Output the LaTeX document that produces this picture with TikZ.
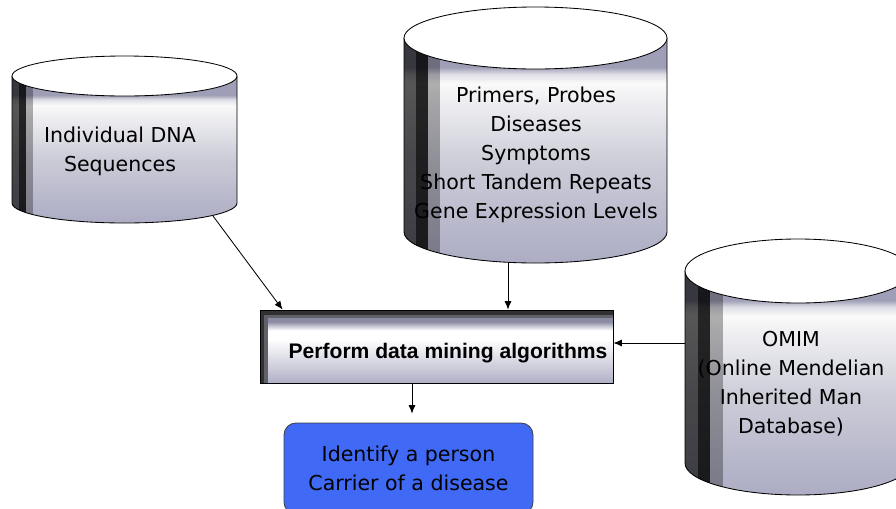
\documentclass[tikz,border=0pt]{standalone}
\usepackage{fontspec}
\setmainfont{DejaVu Sans}
\newfontfamily\boldfont{Liberation Sans}
\usetikzlibrary{calc,arrows.meta}

\definecolor{dbA}{RGB}{172,172,196}
\definecolor{dbB}{RGB}{204,204,216}
\definecolor{dbC}{RGB}{238,238,242}
\definecolor{dbW}{RGB}{250,250,250}
\definecolor{dbD}{RGB}{222,222,230}
\definecolor{dbE}{RGB}{158,158,182}
\definecolor{mbA}{RGB}{176,176,198}
\definecolor{mbC}{RGB}{200,200,212}
\definecolor{mbD}{RGB}{138,138,162}
\definecolor{mbdark}{RGB}{48,48,48}
\definecolor{mbgray}{RGB}{96,96,104}
\definecolor{resblue}{RGB}{64,106,246}

\pgfdeclareverticalshading{dbbody}{100bp}{color(0bp)=(dbA); color(25bp)=(dbA);
  color(47bp)=(dbB); color(61bp)=(dbC); color(65bp)=(dbW); color(67bp)=(dbD);
  color(68.5bp)=(dbE); color(100bp)=(dbE)}
\pgfdeclareverticalshading{mineshade}{100bp}{color(0bp)=(mbA); color(25bp)=(mbA);
  color(55bp)=(white); color(61bp)=(white); color(64bp)=(mbC); color(67bp)=(mbD);
  color(100bp)=(mbD)}

\tikzset{
 dbline/.style
  = {draw=black, line width=0.6pt},
 dbtext/.style
  = {align=center, inner sep=0pt, font=\fontsize{14.6}{20.6}\selectfont},
 minebox/.style
  = {rectangle, draw=black, line width=0.6pt, shading=mineshade, inner sep=0pt,
     path picture={
       \fill[mbdark] (path picture bounding box.north west) rectangle ([yshift=-3.6pt]path picture bounding box.north east);
       \fill[mbgray] ([yshift=-3.6pt]path picture bounding box.north west) rectangle ([yshift=-5.7pt]path picture bounding box.north east);
       \fill[mbdark] (path picture bounding box.north west) rectangle ([xshift=2.9pt]path picture bounding box.south west);
       \fill[mbgray] ([xshift=2.9pt,yshift=-3.6pt]path picture bounding box.north west) rectangle ([xshift=5.7pt]path picture bounding box.south west);
     }},
 resbox/.style
  = {rectangle, rounded corners=8.5pt, draw=black!75, line width=0.6pt, fill=resblue},
 arrow/.style
  = {line width=0.6pt, -{Latex[length=6pt,width=5pt]}},
}

% database cylinder: name, centre x, top y, bottom y, x radius, y radius, stripe
\newcommand\dbcyl[7]{%
  \path[shading=dbbody] (#2-#5,#3) -- (#2-#5,#4)
    arc[start angle=180, end angle=0, x radius=#5, y radius=#6] -- (#2+#5,#3) -- cycle;
  \begin{scope}
    \clip (#2-#5,#3) -- (#2-#5,#4)
      arc[start angle=180, end angle=0, x radius=#5, y radius=#6] -- (#2+#5,#3) -- cycle;
    \fill[black, opacity=.65] (#2-#5,#3) rectangle ++(#7,#4-#3+#6+2);
    \fill[black, opacity=.85] (#2-#5+#7,#3) rectangle ++(#7,#4-#3+#6+2);
    \fill[black, opacity=.3] (#2-#5+2*#7,#3) rectangle ++(#7,#4-#3+#6+2);
  \end{scope}
  \draw[dbline] (#2-#5,#3) -- (#2-#5,#4)
    arc[start angle=180, end angle=0, x radius=#5, y radius=#6] -- (#2+#5,#3);
  \filldraw[dbline, fill=white] (#2,#3) ellipse[x radius=#5, y radius=#6];
  \node[inner sep=0pt, minimum width={2*#5*0.025cm}, minimum height={(#4-#3+2*#6)*0.025cm}] (#1) at (#2,{(#3+#4)/2}) {};
}

\begin{document}
\begin{tikzpicture}[x=0.025cm, y=-0.025cm]
\useasboundingbox (0,0) rectangle (896,508);

% Databases
\dbcyl{dna}{124.5}{76}{203}{112.5}{20}{7}
\dbcyl{prim}{535.5}{38}{232}{131.5}{31}{12}
\dbcyl{omim}{798}{271}{463}{113}{32}{12.5}

% Database contents
\node[dbtext] (dnatxt) at (120,151) {Individual DNA\\Sequences};
\node[dbtext] (primtxt) at (536,155) {Primers, Probes\\Diseases\\Symptoms\\Short Tandem Repeats\\Gene Expression Levels};
\node[dbtext] (omimtxt) at (791,384) {OMIM\\(Online Mendelian\\Inherited Man\\Database)};

% Mining step
\node[minebox, minimum width={353*0.025cm}, minimum height={73*0.025cm}] (mine) at (436.5,346.5) {};
\node[font=\boldfont\bfseries\fontsize{15}{18}\selectfont, inner sep=0pt] (minetxt) at (448,353) {Perform data mining algorithms};

% Result
\node[resbox, dbtext, minimum width={249*0.025cm}, minimum height={91*0.025cm}] (res) at (408.5,468.5) {Identify a person\\Carrier of a disease};

% Connectors
\coordinate (m1) at ($(mine.east)+(0,-3.5)$);
\draw[arrow] ($(dna.south)+(88,-8)$) -- ($(mine.north west)+(23,0)$);
\draw[arrow] ($(prim.south)+(-27.5,0)$) coordinate (p1) -- (p1 |- mine.north);
\draw[arrow] (omim.west |- m1) -- (m1);
\draw[arrow, shorten >=6.4pt] ($(mine.south)+(-24.5,0)$) coordinate (m2) -- (m2 |- res.north);

\end{tikzpicture}
\end{document}
